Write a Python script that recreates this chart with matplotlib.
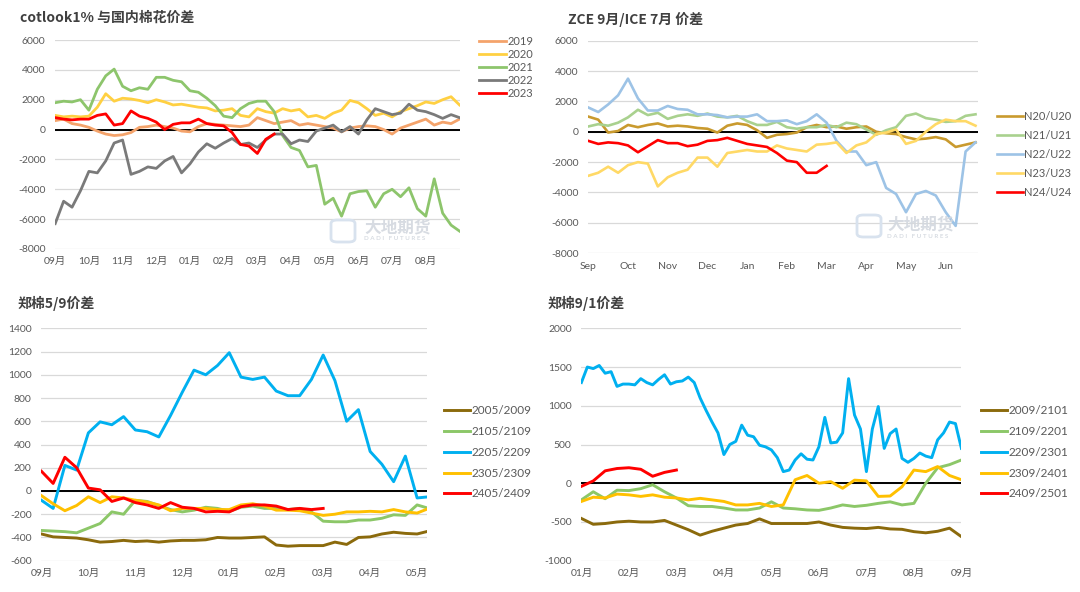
import numpy as np
import matplotlib.pyplot as plt
from matplotlib.patches import FancyBboxPatch

plt.rcParams['font.family'] = ['Lato', 'Noto Sans CJK SC', 'DejaVu Sans']
plt.rcParams['axes.unicode_minus'] = False

# 每个点间隔 1/4 个月(图4蓝线 1/8 个月), 从各图横轴起点开始
STEP = 0.25

# ---- 图1 cotlook1% 与国内棉花价差 (9月起)
p1_months = ['09月', '10月', '11月', '12月', '01月', '02月', '03月', '04月', '05月', '06月', '07月', '08月']
p1_2019 = [600, 700, 400, 300, 150, -100, -300, -400, -350, -200, 150, 200, 300, 200, 100, -100,
           -150, 200, 400, 350, 300, 250, 200, 300, 800, 600, 400, 500, 600, 300, 400, 300,
           200, 100, -150, 100, 200, 250, 200, 0, -300, 100, 300, 500, 700, 300, 500, 400, 700]
p1_2020 = [950, 850, 900, 850, 900, 1500, 2400, 1900, 2100, 2050, 1950, 1800, 2000, 1850, 1650, 1700,
           1600, 1500, 1450, 1250, 1300, 1400, 950, 850, 1400, 1200, 1100, 1400, 1250, 1350, 850, 950,
           750, 1100, 1300, 1950, 1800, 1400, 950, 1100, 850, 1200, 1400, 1600, 1850, 1750, 2000, 2200, 1650]
p1_2021 = [1800, 1900, 1850, 2000, 1300, 2700, 3600, 4050, 2900, 2600, 2800, 2700, 3500, 3500, 3300, 3200,
           2600, 2500, 2100, 1600, 900, 800, 1400, 1750, 1900, 1900, 1200, -400, -1200, -1400, -2500, -2400,
           -5000, -4600, -5800, -4300, -4150, -4100, -5200, -4300, -4000, -4500, -3900, -5300, -5800, -3300,
           -5600, -6400, -6800]
p1_2022 = [-6300, -4800, -5200, -4100, -2800, -2900, -2100, -900, -700, -3000, -2800, -2500, -2600, -2100,
           -1800, -2900, -2300, -1500, -950, -1250, -900, -600, -1000, -900, -1200, -700, -300, -300, -950,
           -700, -800, -100, 100, 300, -150, 200, -300, 650, 1400, 1200, 1000, 1100, 1700, 1300, 1200, 1000,
           750, 1000, 800]
p1_2023 = [800, 700, 650, 700, 700, 950, 1050, 300, 400, 1250, 900, 750, 500, 0, 350, 450, 450, 700, 400,
           300, 250, -200, -1000, -1100, -1600, -650, -300]

# ---- 图2 ZCE 9月/ICE 7月 价差 (Sep 起)
p2_months = ['Sep', 'Oct', 'Nov', 'Dec', 'Jan', 'Feb', 'Mar', 'Apr', 'May', 'Jun']
p2_n20 = [1000, 800, -50, 50, 450, 300, 450, 550, 350, 400, 350, 250, 200, -50, 400, 550, 450, 100, -400,
          -200, -150, -50, 300, 450, 300, 350, 200, 300, 350, 0, -100, -150, -350, -500, -450, -350, -500,
          -1000, -850, -700]
p2_n21 = [350, 500, 400, 600, 950, 1450, 1100, 1250, 850, 1050, 1150, 1050, 1200, 1000, 950, 1050, 700, 450,
          450, 650, 300, 200, 300, 300, 450, 300, 600, 500, 150, -200, 100, 300, 1050, 1200, 900, 800, 650,
          700, 1050, 1150]
p2_n22 = [1600, 1300, 1800, 2400, 3500, 2200, 1400, 1400, 1700, 1500, 1450, 1150, 1150, 1100, 950, 1000,
          1000, 1150, 700, 700, 750, 500, 700, 1150, 600, -600, -1300, -1300, -2200, -2000, -3700, -4100,
          -5300, -4100, -3900, -4200, -5300, -6200, -1300, -700]
p2_n23 = [-2900, -2700, -2300, -2700, -2200, -2000, -2100, -3600, -3000, -2700, -2500, -1700, -1700, -2300,
          -1400, -1300, -1200, -1300, -1300, -900, -1100, -1200, -1300, -850, -800, -700, -1400, -900, -700,
          -150, -50, 150, -800, -600, 0, 500, 800, 700, 700, 400]
p2_n24 = [-600, -800, -700, -750, -900, -1350, -950, -550, -750, -750, -950, -850, -600, -550, -400, -600,
          -800, -900, -1000, -1400, -1900, -2000, -2700, -2700, -2250]

# ---- 图3 郑棉5/9价差 (9月起)
p3_months = ['09月', '10月', '11月', '12月', '01月', '02月', '03月', '04月', '05月']
p3_2005 = [-370, -395, -400, -405, -420, -440, -435, -425, -435, -430, -440, -430, -425, -425, -420, -400,
           -405, -405, -400, -395, -465, -475, -470, -470, -470, -440, -460, -400, -395, -370, -355, -365,
           -370, -345]
p3_2105 = [-340, -345, -350, -360, -320, -280, -180, -200, -80, -90, -125, -160, -180, -165, -140, -150,
           -175, -140, -130, -150, -150, -160, -150, -180, -260, -265, -265, -250, -250, -235, -205, -210,
           -120, -150]
p3_2205 = [-80, -150, 220, 180, 500, 595, 570, 640, 525, 510, 465, 650, 850, 1040, 1000, 1080, 1190, 980,
           960, 980, 860, 820, 820, 960, 1170, 950, 600, 700, 340, 230, 80, 300, -60, -50]
p3_2305 = [-40, -110, -170, -125, -50, -100, -50, -60, -80, -95, -120, -170, -150, -150, -150, -160, -160,
           -120, -110, -130, -165, -165, -170, -190, -210, -200, -180, -180, -175, -180, -160, -180, -190, -150]
p3_2405 = [170, 65, 290, 200, 25, 10, -90, -60, -100, -120, -150, -100, -140, -150, -180, -175, -180, -135,
           -120, -120, -130, -160, -150, -160, -150]

# ---- 图4 郑棉9/1价差 (1月起)
p4_months = ['01月', '02月', '03月', '04月', '05月', '06月', '07月', '08月', '09月']
p4_2009 = [-455, -530, -520, -500, -490, -500, -500, -480, -540, -600, -670, -620, -580, -540, -520, -460,
           -520, -520, -520, -520, -500, -540, -570, -580, -585, -570, -590, -595, -625, -640, -620, -580, -690]
p4_2109 = [-215, -110, -200, -90, -95, -70, -20, -110, -190, -290, -300, -300, -320, -345, -345, -320, -240,
           -320, -330, -345, -350, -320, -280, -300, -285, -260, -240, -280, -260, 0, 200, 240, 300]
p4_2209 = [1300, 1500, 1480, 1520, 1420, 1440, 1250, 1280, 1280, 1270, 1350, 1300, 1270, 1340, 1400, 1280,
           1310, 1320, 1370, 1300, 1100, 940, 790, 650, 370, 500, 540, 750, 620, 600, 490, 470, 430, 330,
           150, 170, 300, 380, 310, 300, 470, 850, 520, 530, 650, 1350, 880, 700, 150, 700, 990, 450, 640,
           700, 320, 270, 320, 390, 350, 330, 560, 650, 790, 770, 450]
p4_2309 = [-235, -180, -190, -140, -150, -170, -150, -180, -190, -215, -195, -215, -235, -280, -280, -260,
           -300, -280, 45, 100, 0, 20, -65, 40, 30, -170, -165, -45, 170, 150, 215, 100, 45]
p4_2409 = [-40, 30, 160, 190, 200, 180, 90, 140, 170]

W, H = 1080, 592
fig = plt.figure(figsize=(W / 100, H / 100), dpi=100)
GREY = '#595959'


def make_ax(l, r, t, b, ylim, ystep, xmax, labels):
    ax = fig.add_axes([l / W, 1 - b / H, (r - l) / W, (b - t) / H])
    ax.set_xlim(0, xmax)
    ax.set_ylim(*ylim)
    ax.set_yticks(np.arange(ylim[0], ylim[1] + 1, ystep))
    ax.set_xticks(range(len(labels)))
    ax.set_xticklabels(labels)
    for s in ax.spines.values():
        s.set_visible(False)
    ax.tick_params(length=0, labelsize=7.5, labelcolor=GREY)
    ax.tick_params(axis='y', pad=7)
    ax.tick_params(axis='x', pad=6)
    ax.yaxis.grid(True, color='#D9D9D9', lw=0.9)
    ax.set_axisbelow(True)
    ax.axhline(0, color='black', lw=1.4, zorder=1.5)
    return ax


def draw(ax, series, step=STEP, lw=2.0):
    for vals, color, label, *st in series:
        s = st[0] if st else step
        x = np.arange(len(vals)) * s
        ax.plot(x, vals, color=color, lw=lw, label=label, solid_joinstyle='round')


def legend(ax, x, y, fs, spacing, hl):
    fs_px = fs * 100 / 72
    ax.legend(loc='upper left', bbox_to_anchor=(x / W, 1 - (y - 0.4 * fs_px) / H),
              bbox_transform=fig.transFigure, frameon=False, fontsize=fs,
              borderpad=0, borderaxespad=0, labelspacing=spacing,
              handlelength=hl, handletextpad=0.15, labelcolor=GREY)


def title(x, y, s):
    fig.text(x / W, 1 - y / H, s, ha='left', va='center', fontsize=10, fontweight='bold',
             color='#404040', family=['Noto Sans CJK SC', 'DejaVu Sans'])


def watermark(lx, ly, tx, ty):
    fig.patches.append(FancyBboxPatch((lx / W, 1 - (ly + 22) / H), 24 / W, 22 / H,
                                      boxstyle='round,pad=0,rounding_size=0.006',
                                      transform=fig.transFigure, fc='none',
                                      ec='#D8E2EE', lw=2.0, zorder=5))
    fig.text(tx / W, 1 - ty / H, '大地期货', fontsize=12, color='#D3D8DF', fontweight='bold',
             ha='left', va='center', family=['Noto Sans CJK SC'], zorder=5, alpha=0.9)
    fig.text(tx / W, 1 - (ty + 12) / H, 'D A D I   F U T U R E S', fontsize=4.5, color='#D3D8DF',
             ha='left', va='center', fontweight='bold', zorder=5, alpha=0.9)


# 图1
ax1 = make_ax(55.2, 459.5, 40, 249, (-8000, 6000), 2000, 12, p1_months)
draw(ax1, [(p1_2019, '#F4A36B', '2019'), (p1_2020, '#FFD042', '2020'), (p1_2021, '#8DC56C', '2021'),
           (p1_2022, '#7A7A7A', '2022'), (p1_2023, '#FF0000', '2023')])
legend(ax1, 479, 40, 8, 0.19, 2.4)
title(19.7, 18, 'cotlook1% 与国内棉花价差')
watermark(331, 220, 364, 227)

# 图2
ax2 = make_ax(588.3, 977.5, 40.7, 253.2, (-8000, 6000), 2000, 9.8, p2_months)
draw(ax2, [(p2_n20, '#C99A2E', 'N20/U20'), (p2_n21, '#A9D18E', 'N21/U21'), (p2_n22, '#9DC3E6', 'N22/U22'),
           (p2_n23, '#FFD966', 'N23/U23'), (p2_n24, '#FF0000', 'N24/U24')], lw=1.9)
legend(ax2, 996.7, 115.7, 8, 0.71, 2.35)
title(567.6, 19, 'ZCE 9月/ICE 7月 价差')
watermark(857, 215, 887, 224)

# 图3
ax3 = make_ax(41.4, 426.5, 328.3, 560.7, (-600, 1400), 200, 8.2, p3_months)
draw(ax3, [(p3_2005, '#8B6A0C', '2005/2009'), (p3_2105, '#8CC768', '2105/2109'),
           (p3_2205, '#00B0F0', '2205/2209'), (p3_2305, '#FFC000', '2305/2309'),
           (p3_2405, '#FF0000', '2405/2409')], lw=2.1)
legend(ax3, 444, 410, 8.5, 0.83, 2.2)
title(17.2, 303, '郑棉5/9价差')

# 图4
ax4 = make_ax(581.4, 961.4, 328.3, 560.7, (-1000, 2000), 500, 8, p4_months)
draw(ax4, [(p4_2009, '#8B6A0C', '2009/2101'), (p4_2109, '#8CC768', '2109/2201'),
           (p4_2209, '#00B0F0', '2209/2301', 0.125), (p4_2309, '#FFC000', '2309/2401'),
           (p4_2409, '#FF0000', '2409/2501')], lw=2.1)
legend(ax4, 981, 410, 8.5, 0.83, 2.2)
title(547, 303, '郑棉9/1价差')

fig.savefig('out.png', dpi=100)
